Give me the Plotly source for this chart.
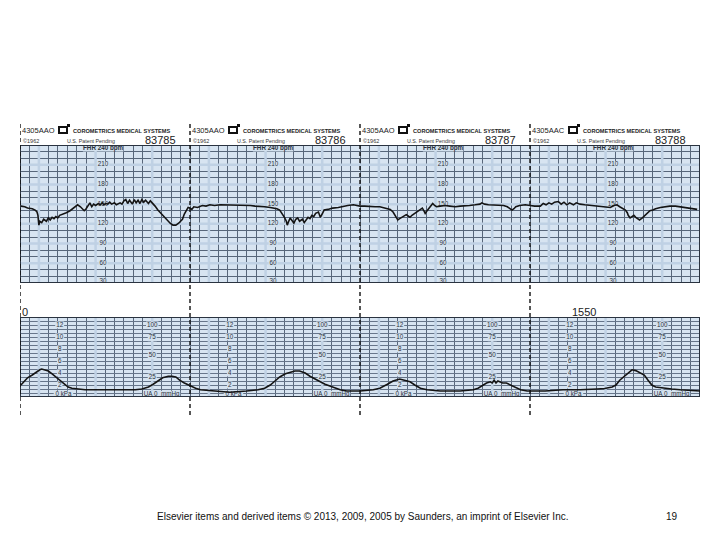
import plotly.graph_objects as go

# ---------------- data (time in seconds, 180 s per paper page) ----------------
fhr_t = [1, 5, 8, 13, 16, 18, 19, 20, 21, 23, 25, 28, 30, 32, 34, 36, 38, 40, 42, 46, 49, 53, 57, 61, 64, 66, 68, 70, 72, 74,
         76, 78, 80, 83, 85, 87, 89, 91, 93, 95, 97, 100, 102, 104, 106, 108, 110, 112, 114, 116, 119, 121, 123, 125, 127,
         129, 131, 133, 136, 138, 140, 143, 146, 149, 152, 156, 159, 162, 165, 168, 172, 174, 176, 178,
         180, 182, 184, 188, 193, 197, 201, 206, 212, 217, 222, 228, 233, 238, 244, 249, 254, 259, 265, 269, 272, 275, 277,
         280, 282, 283, 284, 286, 288, 290, 292, 294, 296, 299, 301, 303, 305, 307, 309, 311, 313, 316, 318, 320, 322, 326,
         331, 337, 342, 347, 353, 357,
         360, 365, 371, 376, 381, 386, 392, 395, 397, 399, 400, 402, 404, 407, 409, 411, 413, 415, 417, 419, 421, 424, 426,
         428, 429, 431, 434, 436, 437, 439, 441, 445, 450, 455, 461, 466, 471, 476, 482, 487, 489, 492, 496, 500, 504, 508,
         512, 516, 519, 521, 523, 525, 529, 535, 540, 545,
         551, 554, 557, 560, 563, 566, 570, 573, 576, 579, 582, 586, 589, 593, 598, 604, 609, 614, 619, 625, 629, 632, 635,
         638, 641, 643, 644, 646, 648, 650, 652, 654, 656, 659, 661, 663, 665, 667, 670, 673, 678, 683, 688, 694, 699, 704,
         709, 714, 717]
fhr_bpm = [147, 146, 144, 143, 141, 138, 133, 118, 124, 122, 127, 124, 129, 126, 130, 128, 131, 129, 133, 135, 137, 140, 144,
           149, 146, 143, 140, 143, 148, 152, 146, 150, 148, 151, 149, 152, 149, 151, 150, 153, 150, 152, 149, 151, 152, 150,
           155, 157, 151, 156, 150, 157, 152, 156, 151, 157, 153, 156, 151, 155, 152, 147, 141, 136, 131, 126, 121, 118, 118,
           121, 127, 135, 141, 145,
           144, 142, 146, 145, 148, 147, 149, 148, 149, 149, 149, 148, 149, 149, 148, 147, 146, 146, 145, 144, 143, 141, 137,
           130, 124, 118, 122, 129, 125, 121, 127, 129, 124, 127, 122, 127, 130, 128, 133, 131, 136, 138, 130, 135, 141, 142,
           144, 145, 147, 148, 149, 148,
           147, 147, 146, 146, 146, 144, 142, 138, 133, 128, 126, 128, 130, 132, 134, 132, 130, 133, 135, 137, 139, 141, 144,
           139, 136, 140, 145, 148, 151, 148, 146, 147, 148, 147, 146, 147, 148, 148, 149, 150, 152, 150, 149, 149, 149, 149,
           148, 146, 143, 141, 143, 146, 148, 149, 148, 147,
           147, 151, 149, 152, 150, 153, 154, 150, 153, 149, 152, 149, 152, 150, 149, 148, 148, 147, 146, 145, 148, 149, 146,
           144, 141, 137, 133, 129, 131, 133, 130, 128, 126, 129, 132, 134, 138, 140, 141, 143, 145, 146, 147, 147, 146, 145,
           144, 143, 142]

ua_t = [1, 4, 8, 13, 17, 21, 23, 26, 30, 34, 38, 42, 47, 51, 55, 61, 69, 85, 106, 122, 129, 136, 141, 146, 151, 157, 161,
        165, 169, 174, 178, 182, 186,
        191, 204, 222, 240, 252, 259, 265, 270, 275, 281, 286, 291, 296, 302, 307, 312, 318, 323, 328, 334, 339, 346, 355,
        360, 374, 381, 389, 395, 402, 408, 413, 418, 424, 431, 445, 466, 480, 485, 490, 494, 498, 500, 502, 504, 506, 508,
        511, 515, 518, 522, 526, 530, 537, 545,
        556, 575, 593, 611, 619, 627, 631, 635, 640, 644, 648, 652, 656, 661, 665, 669, 673, 681, 690, 699, 709, 720]
ua_mmhg = [15, 19, 24, 27.5, 31, 34, 35, 34, 32.5, 29, 25, 21, 16, 12.5, 11, 10, 9, 9, 9, 9, 10, 12.5, 16, 20, 24, 26, 26,
           25, 21, 17.5, 15, 12.5, 11,
           9, 7.5, 6, 7.5, 9, 11, 15, 20, 25, 29, 31, 32.5, 32.5, 30, 26, 22.5, 19, 16, 14, 11, 9, 7.5, 7.5,
           7.5, 9, 11, 16, 20, 22.5, 21, 19, 15, 11, 9, 7.5, 7.5, 9, 11, 15, 17.5, 19, 17.5, 21, 17.5, 20, 19,
           17.5, 17.5, 16, 14, 11, 9, 7.5, 7.5,
           7.5, 9, 9, 10, 10.6, 12.5, 15, 21, 26, 31, 34, 33, 31, 27.5, 21, 15, 12.5, 11, 10, 9, 8, 7.5]

page_numbers = ["83785", "83786", "83787", "83788"]
form_codes = ["4305AAO", "4305AAO", "4305AAO", "4305AAC"]
fhr_labels = [210, 180, 150, 120, 90, 60, 30]
ua_kpa_labels = ["12", "10", "8", "6", "4", "2"]
ua_kpa_at_mmhg = [90, 75, 60, 45, 30, 15]
ua_mmhg_labels = ["100", "75", "50", "25"]
ua_mmhg_at = [90, 74, 52, 25]
page_len_s = 180
n_pages = 4

# ---------------- styling ----------------
BG = "#d7e4f1"
GRID = "#57667a"
GRID_UA = "#66758a"
BAND = "#bfd1e4"
LBG = "#d3e1ee"
TXT = "#2c323b"
FONT = "Liberation Sans, Arial, sans-serif"

W, H = 720, 540
OFF = 8  # page body margin of the html document
def X(px):
    return (px - OFF) / W
def Y(py):
    return 1 - (py - OFF) / H

total = page_len_s * n_pages
px_per_s = 680 / total
px_per_bpm = 138 / 210
px_per_mmhg = 80 / 100

# scale labels printed on the paper (as text traces, below the pen traces)
fx, fy, ftxt = [], [], []
ux, uy, utxt = [], [], []
for p in range(n_pages):
    base = p * page_len_s
    fx.append(base + 88); fy.append(235.5); ftxt.append("<b>FHR 240 bpm</b>")
    for v in fhr_labels:
        fx.append(base + 88); fy.append(v + (3 if v == 30 else 0)); ftxt.append(str(v))
    for s, v in zip(ua_kpa_labels, ua_kpa_at_mmhg):
        ux.append(base + 42); uy.append(v); utxt.append(s)
    ux.append(base + 46); uy.append(3.5); utxt.append("0 kPa")
    for s, v in zip(ua_mmhg_labels, ua_mmhg_at):
        ux.append(base + 140); uy.append(v); utxt.append(s)
    ux.append(base + 150); uy.append(3.5); utxt.append("UA 0  mmHg")

fig = go.Figure()
fig.add_trace(go.Scatter(x=fx, y=fy, text=ftxt, mode="text", xaxis="x", yaxis="y", hoverinfo="skip",
                         textfont=dict(size=6.3, color=TXT, family=FONT)))
fig.add_trace(go.Scatter(x=ux, y=uy, text=utxt, mode="text", xaxis="x2", yaxis="y2", hoverinfo="skip",
                         textfont=dict(size=6.3, color=TXT, family=FONT)))
fig.add_trace(go.Scatter(x=fhr_t, y=fhr_bpm, xaxis="x", yaxis="y", mode="lines",
                         line=dict(color="#141414", width=1.6), hoverinfo="skip"))
fig.add_trace(go.Scatter(x=ua_t, y=ua_mmhg, xaxis="x2", yaxis="y2", mode="lines",
                         line=dict(color="#141414", width=1.6), hoverinfo="skip"))

xdom = [X(20), X(700)]
axis_common = dict(showticklabels=False, ticks="", zeroline=False, showline=False,
                   gridwidth=1, fixedrange=True)
fig.update_layout(
    width=W, height=H, autosize=False, margin=dict(l=0, r=0, t=0, b=0),
    paper_bgcolor="white", plot_bgcolor=BG, showlegend=False,
    xaxis=dict(domain=xdom, range=[0, total], tick0=0, dtick=10, anchor="y", gridcolor=GRID, **axis_common),
    yaxis=dict(domain=[Y(283), Y(145)], range=[30, 240], tick0=30, dtick=10, anchor="x", gridcolor=GRID, **axis_common),
    xaxis2=dict(domain=xdom, range=[0, total], tick0=0, dtick=10, anchor="y2", gridcolor=GRID, **axis_common),
    yaxis2=dict(domain=[Y(397), Y(317)], range=[0, 100], tick0=0, dtick=5, anchor="x2", gridcolor=GRID_UA, **axis_common),
)

shapes = []
# light minute bands
for k in range(int(total / 60)):
    t = 20 + 60 * k
    for xr, yr, y0, y1 in (("x", "y", 30, 240), ("x2", "y2", 0, 100)):
        shapes.append(dict(type="line", xref=xr, yref=yr, x0=t, x1=t, y0=y0, y1=y1,
                           line=dict(color=BAND, width=2.5), layer="between"))
for v in [60, 90, 120, 150, 180, 210]:
    shapes.append(dict(type="line", xref="x", yref="y", x0=0, x1=total, y0=v, y1=v,
                       line=dict(color=BAND, width=2.5), layer="between"))
# light patches behind the printed scale labels
def label_patch(xr, yr, x, y, txt, ppy):
    plain = txt.replace("<b>", "").replace("</b>", "")
    wpx = 3.5 * len(plain) + 2
    hpx = 7
    return dict(type="rect", xref=xr, yref=yr, x0=x - wpx / 2 / px_per_s, x1=x + wpx / 2 / px_per_s,
                y0=y - hpx / 2 / ppy, y1=y + hpx / 2 / ppy, line=dict(width=0), fillcolor=LBG,
                layer="between")
for x, y, s in zip(fx, fy, ftxt):
    shapes.append(label_patch("x", "y", x, y, s, px_per_bpm))
for x, y, s in zip(ux, uy, utxt):
    shapes.append(label_patch("x2", "y2", x, y, s, px_per_mmhg))
# panel borders
shapes.append(dict(type="rect", xref="x", yref="y", x0=0, x1=total, y0=30, y1=240,
                   line=dict(color="#2a3340", width=2), layer="between"))
shapes.append(dict(type="rect", xref="x2", yref="y2", x0=0, x1=total, y0=0, y1=100,
                   line=dict(color="#2a3340", width=2), layer="between"))
# page separators (dashed perforation lines)
for p in range(n_pages):
    shapes.append(dict(type="line", xref="x", yref="paper", x0=p * page_len_s, x1=p * page_len_s,
                       y0=Y(415), y1=Y(122), line=dict(color="#111111", width=1.4, dash="4px,3px"),
                       layer="above"))
# little logo icon per page
for p in range(n_pages):
    ox = 170 * p
    shapes.append(dict(type="rect", xref="paper", yref="paper", x0=X(59 + ox), x1=X(67 + ox),
                       y0=Y(133), y1=Y(127), line=dict(color="#111", width=2), fillcolor="white"))
    shapes.append(dict(type="rect", xref="paper", yref="paper", x0=X(67 + ox), x1=X(70 + ox),
                       y0=Y(127), y1=Y(124), line=dict(color="#111", width=0), fillcolor="#111"))
fig.update_layout(shapes=shapes)

ann = []
def add(text, x, y, size, xanchor="center", color=TXT, bold=False):
    if bold:
        text = "<b>" + text + "</b>"
    ann.append(dict(text=text, x=x, y=y, xref="paper", yref="paper", xanchor=xanchor, yanchor="middle",
                    showarrow=False, borderpad=0, font=dict(size=size, color=color, family=FONT)))

for p in range(n_pages):
    ox = 170 * p
    add(form_codes[p], X(21 + ox), Y(131), 7.5, xanchor="left", color="#222")
    add("COROMETRICS MEDICAL SYSTEMS", X(72 + ox), Y(130.5), 5.6, xanchor="left", color="#222", bold=True)
    add("©1962", X(22 + ox), Y(141), 5.5, xanchor="left", color="#333")
    add("U.S. Patent Pending", X(66 + ox), Y(141), 5.3, xanchor="left", color="#333")
    add(page_numbers[p], X(177 + ox), Y(140), 11, xanchor="right", color="#222")

add("0", X(21), Y(312), 11, xanchor="left", color="#222")
add("1550", X(584), Y(312), 11, color="#222")
add("Elsevier items and derived items © 2013, 2009, 2005 by Saunders, an imprint of Elsevier Inc.",
    X(362), Y(516), 10, color="#111")
add("19", X(672), Y(516), 10, color="#111")
fig.update_layout(annotations=ann)

fig.write_html("out.html", config={"displayModeBar": False})
